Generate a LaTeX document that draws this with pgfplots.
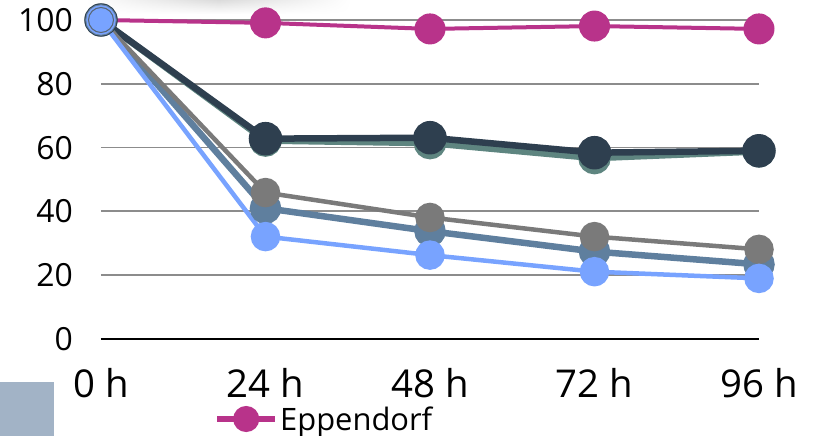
\documentclass[border=0pt]{standalone}
\usepackage{pgfplots}
\pgfplotsset{compat=1.18}
\usepackage{fontspec}
\setmainfont{Open Sans}
\usetikzlibrary{fadings}

\definecolor{cMag}{HTML}{B8338A}
\definecolor{cNavy}{HTML}{2E3F4F}
\definecolor{cTeal}{HTML}{5E8580}
\definecolor{cGray}{HTML}{7A7A7A}
\definecolor{cSteel}{HTML}{5F7F9E}
\definecolor{cLight}{HTML}{78A3FF}
\definecolor{cBox}{HTML}{A2B3C6}
\definecolor{cGrid}{HTML}{8C8C8C}

\tikzfading[name=fade lr, left color=transparent!100, right color=transparent!100, middle color=transparent!0]

\begin{document}
\begin{tikzpicture}

% faint shadow at the top edge
\shade[top color=black!14, bottom color=white, path fading=fade lr] (-15bp,325bp) rectangle (250bp,339bp);

\begin{axis}[
  name=ax, at={(0,0)}, anchor=south west,
  scale only axis, width=658bp, height=319bp,
  xmin=0, xmax=96, ymin=0, ymax=100,
  xtick={0,24,48,72,96},
  xticklabels={0 h,24 h,48 h,72 h,96 h},
  ytick={0,20,40,60,80,100},
  axis lines*=left,
  y axis line style={draw=none},
  x axis line style={-, black, line width=2.6bp},
  major tick length=0pt,
  ymajorgrids,
  major grid style={cGrid, line width=1.8bp},
  /pgf/number format/assume math mode=true,
  yticklabel style={font=\fontsize{32}{36}\selectfont, inner sep=0pt, anchor=east, xshift=-28bp},
  xticklabel style={font=\fontsize{38.5}{44}\selectfont, inner sep=0pt, anchor=north, yshift=-29bp},
  clip=false,
  every axis plot/.append style={mark=*},
  legend style={draw=none, fill=none, at={(0,0)}, anchor=west, xshift=113bp, yshift=-80bp,
    inner sep=0pt, font=\fontsize{31}{34}\selectfont},
  legend image code/.code={\draw[#1, line width=6bp, mark size=10bp, mark repeat=2, mark phase=2]
    plot coordinates {(0bp,0bp) (29bp,0bp) (58bp,0bp)};},
]

\addplot[cMag, line width=4bp, mark size=13.5bp] coordinates {
  (0,100) (24,99.1) (48,97.2) (72,98.1) (96,97.2)
};
\addlegendentry{Eppendorf}

\addplot[cTeal, line width=6.5bp, mark size=13bp, forget plot] coordinates {
  (0,100) (24,62.2) (48,61.4) (72,56.7) (96,58.8)
};

\addplot[cNavy, line width=6.5bp, mark size=13.5bp, forget plot] coordinates {
  (0,100) (24,62.8) (48,63.1) (72,58.4) (96,59.0)
};

\addplot[cSteel, line width=6.5bp, mark size=12.5bp, forget plot] coordinates {
  (0,100) (24,41.0) (48,33.8) (72,27.4) (96,23.4)
};

\addplot[cGray, line width=4.5bp, mark size=12.5bp, forget plot] coordinates {
  (0,100) (24,45.9) (48,38.1) (72,32.1) (96,28.1)
};

\addplot[cLight, line width=4.5bp, mark size=12.5bp, forget plot] coordinates {
  (0,100) (24,32.1) (48,26.3) (72,21.1) (96,19.0)
};

\addplot[only marks, mark=*, mark size=12.5bp, fill=cLight, draw=cNavy!80, line width=1bp, forget plot] coordinates {
  (0,100)
};

\end{axis}

\fill[cBox] (-101bp,-97bp) rectangle (-47bp,-43bp);

\pgfresetboundingbox
\path[use as bounding box] (-101bp,-97bp) rectangle (716bp,339bp);
\end{tikzpicture}
\end{document}
